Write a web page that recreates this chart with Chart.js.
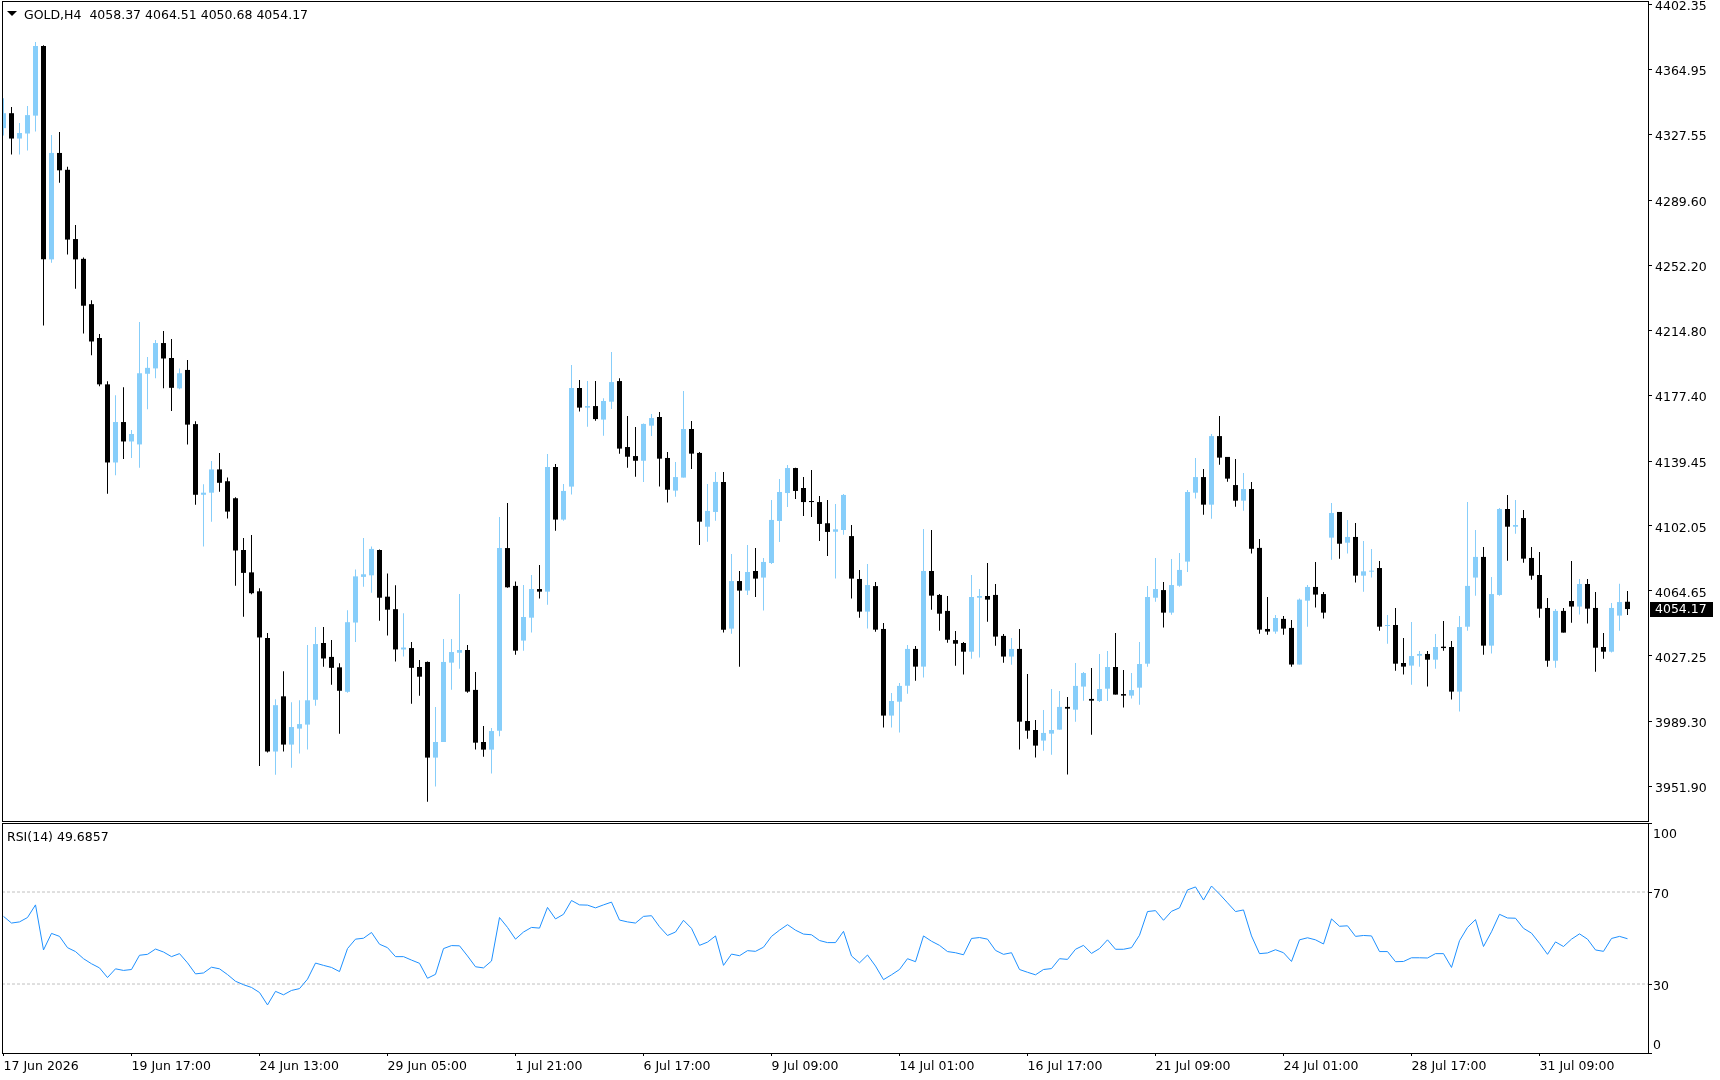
<!DOCTYPE html>
<html>
<head>
<meta charset="utf-8">
<title>GOLD,H4</title>
<script src="https://cdn.jsdelivr.net/npm/chart.js@4.4.1/dist/chart.umd.min.js"></script>
<style>
  html, body { margin: 0; padding: 0; background: #fff; }
  #wrap { position: relative; width: 1720px; height: 1080px; overflow: hidden; }
  canvas { position: absolute; left: 0; top: 0; }
</style>
</head>
<body>
<div id="wrap">
  <canvas id="priceChart" width="1720" height="1080"></canvas>
  <canvas id="rsiChart" width="1720" height="1080"></canvas>
</div>
<script>
// GOLD H4 candles (oldest first)
const openPrices = [
  4331.2, 4339.8, 4325.2, 4328.1, 4338.4, 4378.5, 4255.6, 4316.9, 4307.2, 4267.3,
  4255.9, 4229.8, 4210.3, 4183.6, 4138.6, 4161.9, 4150.7, 4149.0, 4189.7, 4192.8,
  4207.4, 4198.8, 4181.3, 4191.9, 4160.7, 4120.0, 4121.2, 4134.6, 4127.8, 4118.0,
  4088.2, 4075.3, 4064.4, 4037.5, 3972.1, 4003.9, 3976.1, 3985.3, 3987.6, 4001.9,
  4034.6, 4026.6, 4020.6, 4006.5, 4046.4, 4072.7, 4073.6, 4088.2, 4061.3, 4054.1,
  4030.9, 4031.7, 4020.8, 4023.7, 3968.6, 3977.6, 4023.3, 4029.0, 4030.6, 4007.6,
  3977.6, 3973.2, 3984.1, 4089.3, 4067.5, 4036.0, 4049.2, 4065.7, 4064.2, 4136.0,
  4105.7, 4124.7, 4181.5, 4170.2, 4171.1, 4163.3, 4173.6, 4185.5, 4147.5, 4142.3,
  4139.6, 4159.8, 4164.8, 4141.2, 4122.4, 4129.9, 4157.9, 4144.1, 4101.6, 4110.1,
  4127.4, 4042.9, 4070.3, 4064.8, 4076.1, 4072.3, 4080.7, 4104.9, 4121.0, 4135.4,
  4123.9, 4116.4, 4115.8, 4103.6, 4098.7, 4099.7, 4096.2, 4071.5, 4052.7, 4067.4,
  4042.7, 3992.8, 4000.8, 4010.0, 4031.2, 4021.0, 4076.1, 4062.3, 4053.1, 4036.3,
  4034.6, 4029.6, 4060.7, 4061.7, 4062.3, 4038.7, 4026.8, 4031.2, 3989.7, 3984.5,
  3978.4, 3982.4, 3984.7, 3997.8, 3996.2, 4009.5, 4002.4, 4001.2, 4008.3, 4020.8,
  4005.2, 4004.3, 4008.9, 4022.7, 4060.7, 4065.1, 4052.1, 4067.6, 4081.5, 4121.2,
  4130.2, 4114.3, 4153.8, 4141.8, 4125.6, 4116.6, 4123.3, 4089.4, 4042.7, 4041.2,
  4048.5, 4043.3, 4022.2, 4059.0, 4066.9, 4062.8, 4095.3, 4110.1, 4092.4, 4095.7,
  4073.4, 4075.7, 4077.8, 4044.4, 4045.0, 4023.1, 4021.6, 4027.3, 4028.3, 4025.0,
  4032.5, 4032.3, 4006.6, 4044.0, 4072.3, 4084.2, 4033.1, 4062.3, 4111.8, 4101.6,
  4106.6, 4083.6, 4073.8, 4054.8, 4024.4, 4053.1, 4058.8, 4055.6, 4068.6, 4054.8,
  4032.3, 4029.6, 4050.4, 4058.37
];
const highPrices = [
  4348.4, 4343.3, 4334.1, 4343.9, 4380.8, 4379.0, 4327.2, 4328.9, 4308.9, 4275.4,
  4256.7, 4232.1, 4212.6, 4185.4, 4177.3, 4181.9, 4157.3, 4219.5, 4199.4, 4209.1,
  4214.3, 4209.7, 4192.8, 4197.7, 4162.4, 4126.0, 4139.5, 4144.1, 4130.0, 4118.6,
  4095.1, 4096.8, 4066.1, 4040.4, 4002.2, 4018.3, 4000.5, 4001.6, 4033.5, 4043.8,
  4043.8, 4036.3, 4022.9, 4053.5, 4077.0, 4095.1, 4090.2, 4088.5, 4074.7, 4067.9,
  4051.8, 4035.2, 4024.8, 4024.0, 3997.8, 4036.9, 4036.9, 4062.8, 4033.5, 4017.9,
  3986.8, 3985.7, 4107.2, 4115.3, 4070.1, 4068.0, 4073.8, 4079.6, 4143.5, 4137.7,
  4126.2, 4194.7, 4186.1, 4185.5, 4185.5, 4175.6, 4202.2, 4187.1, 4165.4, 4159.0,
  4161.0, 4166.5, 4167.7, 4144.6, 4138.9, 4179.8, 4162.5, 4144.6, 4126.2, 4133.1,
  4133.1, 4085.9, 4076.1, 4091.1, 4089.3, 4083.6, 4117.0, 4129.1, 4137.1, 4135.6,
  4130.2, 4134.3, 4119.3, 4117.0, 4114.7, 4120.4, 4102.6, 4076.7, 4080.1, 4069.8,
  4046.1, 4005.8, 4011.6, 4033.5, 4032.9, 4100.3, 4099.7, 4062.8, 4061.7, 4041.5,
  4035.2, 4073.8, 4065.7, 4080.7, 4068.6, 4039.8, 4037.5, 4042.7, 4016.8, 3990.3,
  3996.0, 4008.1, 4007.0, 4003.5, 4023.1, 4017.9, 4020.2, 4028.3, 4030.0, 4040.4,
  4019.1, 4017.3, 4035.2, 4067.5, 4083.6, 4069.8, 4083.0, 4086.5, 4122.7, 4141.2,
  4134.8, 4155.0, 4165.4, 4141.8, 4140.6, 4132.5, 4127.4, 4094.5, 4061.1, 4050.8,
  4050.2, 4047.9, 4060.2, 4068.0, 4081.3, 4064.0, 4115.3, 4110.1, 4105.5, 4103.7,
  4093.4, 4088.8, 4081.9, 4050.8, 4054.8, 4037.5, 4046.7, 4030.0, 4030.0, 4039.8,
  4047.3, 4035.8, 4050.2, 4115.8, 4099.7, 4089.9, 4072.6, 4112.4, 4119.9, 4117.0,
  4111.2, 4089.9, 4087.0, 4060.6, 4054.2, 4054.8, 4081.9, 4071.5, 4071.5, 4064.0,
  4040.4, 4057.7, 4068.8, 4064.51
];
const lowPrices = [
  4326.9, 4316.0, 4316.0, 4318.3, 4329.2, 4217.5, 4253.6, 4299.7, 4258.4, 4238.7,
  4212.9, 4200.3, 4182.5, 4120.6, 4131.2, 4140.6, 4141.2, 4135.5, 4169.3, 4187.1,
  4181.3, 4168.2, 4180.8, 4149.0, 4114.3, 4090.2, 4104.5, 4121.7, 4106.3, 4067.6,
  4049.8, 4062.7, 3963.8, 3971.5, 3958.7, 3972.1, 3962.7, 3971.0, 3973.3, 3998.5,
  4020.9, 4010.5, 3982.4, 4006.0, 4035.2, 4067.0, 4063.6, 4047.5, 4038.9, 4024.0,
  4026.9, 3999.6, 4004.3, 3943.2, 3951.9, 3977.6, 4007.7, 4019.8, 4006.0, 3973.2,
  3969.1, 3959.5, 3980.9, 4066.5, 4027.9, 4030.2, 4040.6, 4060.2, 4056.7, 4099.3,
  4105.1, 4120.1, 4167.9, 4159.2, 4162.7, 4154.0, 4169.4, 4143.7, 4135.6, 4130.4,
  4127.4, 4153.9, 4124.7, 4115.5, 4118.9, 4129.9, 4134.8, 4091.1, 4093.0, 4105.1,
  4040.6, 4040.0, 4021.0, 4062.3, 4061.1, 4053.3, 4080.1, 4092.8, 4113.0, 4117.6,
  4107.8, 4107.2, 4093.4, 4084.8, 4071.7, 4097.0, 4060.2, 4049.2, 4042.9, 4041.1,
  3985.9, 3985.9, 3983.0, 4005.4, 4012.9, 4014.7, 4053.8, 4041.7, 4034.8, 4021.5,
  4016.4, 4025.6, 4026.2, 4046.9, 4033.1, 4023.3, 4022.1, 3973.2, 3979.5, 3968.6,
  3972.6, 3970.3, 3984.7, 3958.8, 3989.3, 4001.4, 3981.8, 4000.6, 4001.2, 4004.9,
  3997.4, 4002.6, 3999.1, 4021.0, 4058.4, 4043.5, 4050.9, 4067.0, 4075.5, 4117.8,
  4108.5, 4106.2, 4137.3, 4127.5, 4113.1, 4110.8, 4086.1, 4040.0, 4039.4, 4040.0,
  4039.4, 4021.0, 4022.2, 4044.0, 4055.0, 4048.7, 4082.6, 4083.2, 4086.1, 4069.4,
  4064.2, 4072.3, 4041.7, 4034.2, 4018.7, 4016.4, 4010.6, 4021.0, 4009.5, 4019.8,
  4030.2, 4002.0, 3995.1, 4041.7, 4061.9, 4027.9, 4028.5, 4061.9, 4082.0, 4097.6,
  4080.9, 4071.1, 4049.2, 4021.0, 4020.4, 4040.6, 4046.3, 4051.0, 4045.8, 4018.1,
  4025.6, 4029.1, 4041.7, 4050.68
];
const closePrices = [
  4339.8, 4325.2, 4328.4, 4338.7, 4378.5, 4255.6, 4316.9, 4306.9, 4267.0, 4255.6,
  4228.9, 4208.3, 4183.6, 4138.6, 4161.9, 4150.7, 4155.0, 4190.0, 4193.1, 4207.4,
  4198.5, 4181.6, 4190.0, 4160.4, 4120.0, 4121.2, 4134.6, 4126.9, 4110.3, 4087.9,
  4075.0, 4063.3, 4037.8, 3972.1, 3998.8, 3976.1, 3986.2, 3987.9, 4001.6, 4034.0,
  4025.7, 4020.3, 4007.1, 4046.6, 4073.0, 4074.2, 4088.8, 4060.7, 4053.8, 4030.9,
  4032.0, 4020.3, 4015.2, 3968.6, 3977.6, 4023.7, 4029.4, 4030.6, 4006.6, 3977.2,
  3973.2, 3983.9, 4089.3, 4066.7, 4030.2, 4049.6, 4065.7, 4064.2, 4136.0, 4105.7,
  4122.2, 4181.5, 4170.2, 4171.1, 4163.6, 4174.0, 4184.9, 4146.6, 4141.9, 4139.6,
  4160.8, 4164.2, 4140.8, 4122.9, 4130.2, 4157.9, 4143.7, 4104.5, 4110.7, 4127.4,
  4042.3, 4070.3, 4064.8, 4075.5, 4071.7, 4081.3, 4105.5, 4121.6, 4135.4, 4122.2,
  4115.8, 4115.8, 4103.2, 4098.6, 4100.1, 4119.9, 4071.7, 4052.7, 4068.0, 4042.3,
  3992.8, 4001.2, 4009.9, 4031.2, 4021.0, 4076.1, 4061.9, 4051.5, 4036.5, 4034.2,
  4029.6, 4061.1, 4061.7, 4059.6, 4038.3, 4026.8, 4031.2, 3989.3, 3984.1, 3975.5,
  3982.8, 3984.5, 3997.8, 3996.8, 4009.9, 4017.3, 4001.4, 4008.1, 4020.8, 4004.9,
  4004.3, 4007.5, 4022.5, 4061.1, 4065.7, 4052.1, 4068.0, 4076.7, 4121.6, 4130.2,
  4114.3, 4153.8, 4141.4, 4129.3, 4116.6, 4123.3, 4088.9, 4042.3, 4041.2, 4049.0,
  4042.9, 4022.2, 4059.6, 4066.9, 4062.5, 4052.1, 4109.5, 4091.8, 4095.7, 4073.4,
  4075.9, 4076.1, 4044.0, 4045.0, 4022.7, 4021.0, 4027.1, 4028.3, 4025.0, 4032.3,
  4031.7, 4006.6, 4043.8, 4067.5, 4084.2, 4033.1, 4062.8, 4111.8, 4101.6, 4102.6,
  4083.2, 4073.4, 4054.4, 4024.4, 4053.1, 4040.6, 4055.6, 4068.6, 4054.4, 4031.9,
  4029.6, 4054.8, 4058.2, 4054.17
];
const rsiValues = [
  59.4, 56.5, 57.0, 58.9, 64.4, 44.8, 52.0, 50.7, 45.8, 44.1,
  41.0, 38.8, 37.0, 32.8, 36.6, 35.9, 36.3, 42.5, 42.9, 45.2,
  43.9, 41.9, 43.2, 39.2, 34.4, 34.8, 37.3, 36.6, 34.1, 31.2,
  29.7, 28.5, 26.3, 20.9, 26.8, 25.3, 27.2, 28.0, 32.1, 39.1,
  38.1, 37.2, 35.4, 45.4, 49.5, 49.9, 52.4, 47.3, 45.8, 41.9,
  41.9, 40.4, 39.0, 32.5, 34.2, 45.4, 46.7, 46.6, 42.2, 37.5,
  37.0, 40.0, 58.9, 54.6, 49.5, 52.6, 54.6, 54.3, 63.3, 58.3,
  60.3, 66.3, 64.4, 64.3, 63.1, 64.4, 65.6, 57.8, 57.0, 56.5,
  59.4, 59.7, 54.9, 51.1, 52.6, 57.7, 54.2, 46.8, 48.2, 50.9,
  38.1, 43.0, 42.3, 44.5, 44.2, 46.0, 50.7, 53.4, 55.8, 53.4,
  51.7, 51.4, 48.9, 48.0, 48.0, 52.9, 42.2, 39.2, 42.6, 37.8,
  31.9, 34.0, 36.3, 41.0, 39.7, 50.9, 48.6, 46.8, 44.1, 43.6,
  42.7, 49.8, 50.2, 49.5, 44.6, 42.9, 43.6, 36.3, 35.1, 34.0,
  36.3, 36.7, 41.0, 40.7, 45.1, 46.8, 43.3, 45.4, 49.2, 45.1,
  45.1, 45.8, 51.2, 61.5, 61.9, 57.7, 61.6, 63.1, 70.9, 72.2,
  66.5, 72.6, 69.1, 65.3, 61.5, 62.2, 50.9, 43.2, 43.5, 44.9,
  43.6, 39.8, 49.2, 50.1, 49.2, 47.4, 58.3, 55.1, 55.3, 50.7,
  51.1, 50.9, 44.1, 44.1, 39.7, 39.8, 41.4, 41.4, 41.3, 43.2,
  43.2, 37.2, 48.8, 54.6, 58.0, 46.3, 52.7, 60.3, 58.7, 58.6,
  54.2, 52.1, 47.7, 42.9, 48.3, 46.3, 49.5, 51.8, 49.5, 44.8,
  44.2, 49.8, 50.7, 49.6857
];

// axis labels as printed on the chart
const priceTicks = [4402.35, 4364.95, 4327.55, 4289.60, 4252.20, 4214.80, 4177.40,
  4139.45, 4102.05, 4064.65, 4027.25, 3989.30, 3951.90];
const rsiTicks = [0, 30, 70, 100];
const rsiLevels = [30, 70];
const timeLabels = ['17 Jun 2026', '19 Jun 17:00', '24 Jun 13:00', '29 Jun 05:00',
  '1 Jul 21:00', '6 Jul 17:00', '9 Jul 09:00', '14 Jul 01:00', '16 Jul 17:00',
  '21 Jul 09:00', '24 Jul 01:00', '28 Jul 17:00', '31 Jul 09:00'];
const timeLabelStep = 16; // one label every 16 bars

const SYMBOL = 'GOLD,H4';
const RSI_NAME = 'RSI(14)';

const BULL = '#87CEFA';
const BEAR = '#000000';
const RSI_COLOR = '#1E90FF';
const LEVEL_COLOR = '#C0C0C0';
const FONT = { family: 'DejaVu Sans', size: 12.5 };

// visible window: 8 px per bar, plot from x=2 to x=1648
const X_MIN = -0.1875;
const X_MAX = 205.5625;
const PRICE_MIN = 3932.08;
const PRICE_MAX = 4404.43;
const AXIS_WIDTH = 72;
const LABEL_SHIFT = 2.5; // MT4 prints axis labels a little below the tick

Chart.defaults.font.family = FONT.family;
Chart.defaults.font.size = FONT.size;
Chart.defaults.color = '#000';

const barIndex = closePrices.map((_, i) => i);
const candleColors = barIndex.map((i) => (closePrices[i] >= openPrices[i] ? BULL : BEAR));
const lastIndex = closePrices.length - 1;

function fontString(f) {
  return `${f.size}px "${f.family}"`;
}

function drawFrame(ctx, area) {
  ctx.save();
  ctx.strokeStyle = '#000';
  ctx.lineWidth = 1;
  ctx.strokeRect(area.left + 0.5, area.top + 0.5, area.right - area.left, area.bottom - area.top);
  ctx.restore();
}

const pricePanePlugin = {
  id: 'pricePane',
  afterDraw(chart) {
    const { ctx, chartArea } = chart;
    drawFrame(ctx, chartArea);

    // header: ▼ GOLD,H4  O H L C
    ctx.save();
    ctx.fillStyle = '#000';
    ctx.beginPath();
    ctx.moveTo(7, 11);
    ctx.lineTo(17, 11);
    ctx.lineTo(12, 16);
    ctx.closePath();
    ctx.fill();
    ctx.font = fontString(FONT);
    ctx.textBaseline = 'alphabetic';
    const ohlc = [openPrices, highPrices, lowPrices, closePrices]
      .map((arr) => arr[lastIndex].toFixed(2)).join(' ');
    ctx.fillText(`${SYMBOL}  ${ohlc}`, 24, 18.5);

    // last price marker on the axis
    const y = chart.scales.y.getPixelForValue(closePrices[lastIndex]);
    ctx.fillRect(chartArea.right + 2, Math.round(y) - 7, 63, 15);
    ctx.fillStyle = '#fff';
    ctx.textBaseline = 'middle';
    ctx.fillText(closePrices[lastIndex].toFixed(2), chartArea.right + 7, Math.round(y) + 1);
    ctx.restore();
  },
};

const rsiPanePlugin = {
  id: 'rsiPane',
  afterDraw(chart) {
    const { ctx, chartArea } = chart;
    drawFrame(ctx, chartArea);
    ctx.save();
    ctx.fillStyle = '#000';
    ctx.font = fontString(FONT);
    ctx.textBaseline = 'alphabetic';
    ctx.fillText(`${RSI_NAME} ${rsiValues[lastIndex].toFixed(4)}`, 7, chartArea.top + 17.5);
    // MT4 keeps the 0 / 100 labels inside the pane
    ctx.textBaseline = 'middle';
    ctx.fillText(String(rsiTicks[rsiTicks.length - 1]), chartArea.right + 5, chartArea.top + 12);
    ctx.fillText(String(rsiTicks[0]), chartArea.right + 5, chartArea.bottom - 7);
    ctx.restore();
  },
};

new Chart(document.getElementById('priceChart'), {
  type: 'bar',
  data: {
    datasets: [
      {
        label: 'body',
        data: barIndex.map((i) => ({ x: i, y: [openPrices[i], closePrices[i]] })),
        backgroundColor: candleColors,
        barThickness: 5,
        minBarLength: 1,
        inflateAmount: 0,
        borderWidth: 0,
        grouped: false,
        order: 0,
      },
      {
        label: 'wick',
        data: barIndex.map((i) => ({ x: i, y: [lowPrices[i], highPrices[i]] })),
        backgroundColor: candleColors,
        barThickness: 1,
        minBarLength: 1,
        inflateAmount: 0,
        borderWidth: 0,
        grouped: false,
        order: 1,
      },
    ],
  },
  options: {
    responsive: false,
    animation: false,
    devicePixelRatio: 1,
    layout: { padding: { left: 2, top: 1, right: 0, bottom: 1080 - 821 } },
    plugins: { legend: { display: false }, tooltip: { enabled: false } },
    scales: {
      x: {
        type: 'linear',
        min: X_MIN,
        max: X_MAX,
        offset: false,
        display: false,
        grid: { offset: false },
      },
      y: {
        position: 'right',
        min: PRICE_MIN,
        max: PRICE_MAX,
        bounds: 'data',
        afterFit: (scale) => {
          scale.width = AXIS_WIDTH;
          scale.paddingTop = 0;
          scale.paddingBottom = 0;
        },
        afterBuildTicks: (scale) => {
          scale.ticks = priceTicks.map((v) => ({ value: v }));
        },
        ticks: {
          autoSkip: false,
          padding: 3,
          labelOffset: LABEL_SHIFT,
          color: '#000',
          font: FONT,
          callback: (v) => Number(v).toFixed(2),
        },
        grid: { drawOnChartArea: false, tickLength: 4, color: '#000' },
        border: { display: false },
      },
    },
  },
  plugins: [pricePanePlugin],
});

new Chart(document.getElementById('rsiChart'), {
  type: 'line',
  data: {
    datasets: [
      {
        label: RSI_NAME,
        data: barIndex.map((i) => ({ x: i, y: rsiValues[i] })),
        borderColor: RSI_COLOR,
        borderWidth: 1,
        pointRadius: 0,
        tension: 0,
        order: 0,
      },
      ...rsiLevels.map((level) => ({
        label: `level ${level}`,
        data: [{ x: X_MIN, y: level }, { x: X_MAX, y: level }],
        borderColor: LEVEL_COLOR,
        borderWidth: 1,
        borderDash: [3, 2],
        pointRadius: 0,
        order: 1,
      })),
    ],
  },
  options: {
    responsive: false,
    animation: false,
    devicePixelRatio: 1,
    layout: { padding: { left: 2, top: 823, right: 0, bottom: 0 } },
    plugins: { legend: { display: false }, tooltip: { enabled: false } },
    scales: {
      x: {
        type: 'linear',
        min: X_MIN,
        max: X_MAX,
        offset: false,
        bounds: 'data',
        afterFit: (scale) => {
          scale.height = 1080 - 1053;
          scale.paddingLeft = 0;
          scale.paddingRight = 0;
        },
        afterBuildTicks: (scale) => {
          scale.ticks = timeLabels.map((_, n) => ({ value: n * timeLabelStep }));
        },
        ticks: {
          autoSkip: false,
          maxRotation: 0,
          align: 'start',
          padding: 3,
          color: '#000',
          font: FONT,
          callback: (v) => timeLabels[Math.round(v / timeLabelStep)] ?? '',
        },
        grid: { drawOnChartArea: false, tickLength: 3, color: '#000', offset: false },
        border: { display: false },
      },
      y: {
        position: 'right',
        min: 0,
        max: 100,
        bounds: 'data',
        afterFit: (scale) => {
          scale.width = AXIS_WIDTH;
          scale.paddingTop = 0;
          scale.paddingBottom = 0;
        },
        afterBuildTicks: (scale) => {
          scale.ticks = rsiTicks.map((v) => ({ value: v }));
        },
        ticks: {
          autoSkip: false,
          padding: 1,
          labelOffset: LABEL_SHIFT,
          color: '#000',
          font: FONT,
          // 0 and 100 are drawn by the pane plugin
          callback: (v) => (rsiLevels.includes(v) ? String(v) : ''),
        },
        grid: { drawOnChartArea: false, tickLength: 4, color: '#000' },
        border: { display: false },
      },
    },
  },
  plugins: [rsiPanePlugin],
});
</script>
</body>
</html>
